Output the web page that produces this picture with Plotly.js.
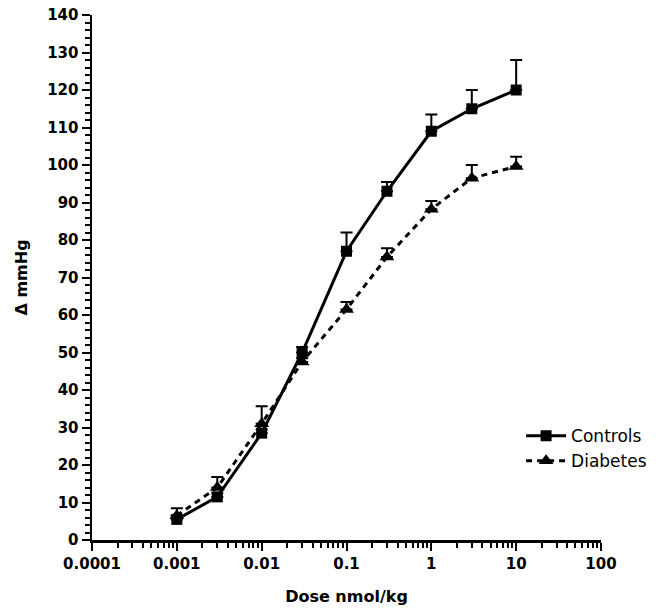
<!DOCTYPE html>
<html>
<head>
<meta charset="utf-8">
<script src="https://cdn.plot.ly/plotly-3.0.1.min.js"></script>
<style>html,body{margin:0;padding:0;background:#fff;}#chart{width:665px;height:612px;}</style>
</head>
<body>
<div id="chart"></div>
<script>
var doses = [0.001, 0.003, 0.01, 0.03, 0.1, 0.3, 1, 3, 10];
var controls = [5.5, 11.5, 28.5, 50, 77, 93, 109, 115, 120];
var controlsErr = [1, 1, 1, 1.5, 5, 2.5, 4.5, 5, 8];
var diabetes = [6.5, 14, 31, 47.5, 61.5, 75.5, 88.2, 96.5, 99.6];
var diabetesErr = [2, 2.8, 4.7, 1, 2, 2.3, 2.2, 3.5, 2.6];
var xTickVals = [0.0001, 0.001, 0.01, 0.1, 1, 10, 100];
var xTickText = ['0.0001', '0.001', '0.01', '0.1', '1', '10', '100'];

var tickFont = {family: 'DejaVu Sans', size: 15, color: '#000', weight: 'bold'};

var traces = [
  {
    x: doses, y: controls, name: 'Controls', type: 'scatter', mode: 'lines+markers',
    line: {color: '#000', width: 3, dash: 'solid'},
    marker: {symbol: 'square', size: 11, color: '#000'},
    error_y: {type: 'data', symmetric: false, array: controlsErr, arrayminus: controlsErr.map(function(){return 0;}), color: '#000', thickness: 2, width: 6}
  },
  {
    x: doses, y: diabetes, name: 'Diabetes', type: 'scatter', mode: 'lines+markers',
    line: {color: '#000', width: 3, dash: '6px,5px'},
    marker: {symbol: 'triangle-up', size: 13, color: '#000'},
    error_y: {type: 'data', symmetric: false, array: diabetesErr, arrayminus: diabetesErr.map(function(){return 0;}), color: '#000', thickness: 2, width: 6}
  }
];

var layout = {
  width: 665, height: 612,
  margin: {l: 92, r: 64, t: 15, b: 72},
  paper_bgcolor: '#fff', plot_bgcolor: '#fff',
  showlegend: true,
  legend: {x: 0.843, y: 0.232, xanchor: 'left', yanchor: 'top', bgcolor: 'rgba(0,0,0,0)',
           font: {family: 'DejaVu Sans', size: 17, color: '#000'}, itemwidth: 40},
  xaxis: {
    type: 'log', range: [-4, 2],
    tickmode: 'array', tickvals: xTickVals, ticktext: xTickText,
    ticks: 'outside', ticklen: 8, tickwidth: 2, tickcolor: '#000',
    showline: true, linewidth: 2.5, linecolor: '#000', mirror: false,
    showgrid: false, zeroline: false,
    tickfont: tickFont,
    minor: {ticks: 'outside', ticklen: 5, tickwidth: 2, tickcolor: '#000', dtick: 'D1', showgrid: false},
    title: {text: 'Dose nmol/kg', font: {family: 'DejaVu Sans', size: 16, color: '#000', weight: 'bold'}, standoff: 20}
  },
  yaxis: {
    range: [0, 140], dtick: 10, tick0: 0,
    ticks: 'outside', ticklen: 8, tickwidth: 2, tickcolor: '#000',
    showline: true, linewidth: 2.5, linecolor: '#000',
    showgrid: false, zeroline: false,
    tickfont: tickFont,
    minor: {ticks: 'outside', ticklen: 5, tickwidth: 2, tickcolor: '#000', dtick: 2, showgrid: false},
    title: {text: 'Δ mmHg', font: {family: 'DejaVu Sans', size: 16, color: '#000', weight: 'bold'}, standoff: 16}
  }
};

Plotly.newPlot('chart', traces, layout, {displayModeBar: false, staticPlot: true});
</script>
</body>
</html>
